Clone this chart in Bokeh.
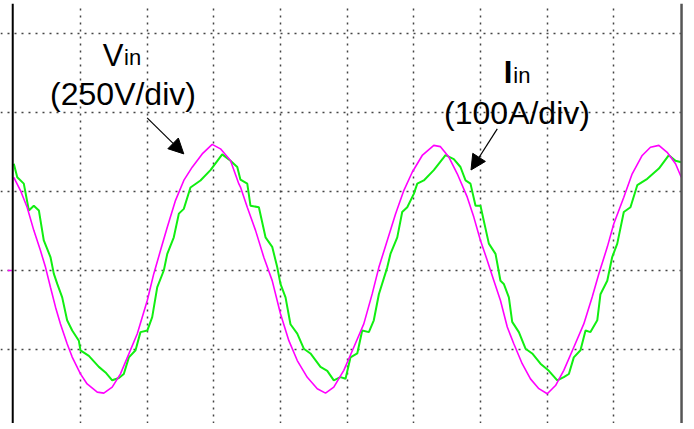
from bokeh.plotting import figure
from bokeh.models import Range1d, Span, Label, Arrow, NormalHead, FixedTicker
from bokeh.embed import file_html
from bokeh.resources import INLINE

# ---- data (time in ms, 5 ms/div; Vin in V, 250 V/div; Iin in A, 100 A/div) ----
vin_t = [0.0, 0.50, 1.00, 1.50, 2.00, 2.38, 2.75, 3.13, 3.50, 4.00, 4.38, 5.00, 5.50, 6.26, 6.75,
         7.38, 8.00, 8.63, 9.26, 10.01, 10.50, 11.00, 11.51, 12.13, 12.75, 13.38, 14.13, 14.88,
         15.50, 16.25, 16.88, 17.00, 17.51, 18.13, 18.75, 19.38, 20.00, 20.63, 21.26, 22.01,
         22.76, 23.38, 24.00, 24.75, 25.50, 26.25, 26.88, 27.38, 28.01, 28.63, 29.25, 29.88,
         30.63, 31.50, 32.00, 32.63, 33.26, 34.01, 34.50, 35.00, 35.51, 36.00, 36.50, 37.01,
         37.50, 38.13, 38.75, 39.38, 40.01, 40.63, 41.25, 42.00, 42.75, 43.38, 43.88, 44.51,
         45.00, 45.75, 46.38, 47.13, 47.75, 48.38, 49.00, 49.63, 50.06]
vin_v = [295, 253, 200, 127, 63, 10, -53, -116, -169, -232, -274, -327, -359, -385, -388,
         -369, -327, -264, -200, -95, -10, 63, 137, 222, 285, 327, 369, 399,
         385, 348, 274, 264, 200, 127, 42, -32, -137, -222, -285, -338,
         -374, -388, -369, -316, -243, -169, -74, 10, 95, 179, 253, 311,
         364, 396, 392, 359, 306, 232, 169, 95, 32, -32, -95, -179,
         -232, -295, -343, -374, -390, -364, -316, -243, -169, -84, -10, 74,
         148, 232, 306, 364, 390, 396, 374, 338, 295]

iin_t = [0.0, 0.26, 0.75, 1.13, 1.50, 1.88, 2.25, 2.75, 3.00, 3.26, 3.63, 4.00, 4.38, 4.88, 5.00,
         5.63, 6.38, 6.88, 7.38, 7.88, 8.25, 8.63, 9.13, 9.50, 10.01, 10.38, 10.76, 11.25, 11.51,
         12.00, 12.38, 12.75, 13.25, 14.00, 14.75, 15.63, 16.25, 16.76, 17.00, 17.51, 17.75,
         18.38, 18.88, 19.38, 19.76, 20.00, 20.38, 20.75, 21.26, 21.75, 22.25, 23.00, 23.51,
         24.00, 24.50, 24.88, 25.25, 25.76, 26.13, 26.63, 27.00, 27.38, 28.01, 28.25, 28.76,
         29.13, 29.51, 30.00, 30.26, 30.75, 31.50, 32.38, 33.00, 33.50, 33.88, 34.25, 34.63,
         35.00, 35.63, 36.13, 36.50, 36.75, 37.13, 37.38, 37.88, 38.38, 38.88, 39.50, 40.13,
         40.76, 41.25, 41.63, 42.00, 42.50, 42.88, 43.25, 43.76, 44.00, 44.51, 44.88, 45.26,
         45.75, 46.25, 46.76, 47.51, 48.38, 49.13, 49.63, 50.06]
iin_a = [135, 118, 110, 76, 82, 76, 38, 17, -4, -17, -34, -63, -76, -89, -101,
         -108, -122, -129, -139, -136, -131, -110, -101, -78, -76, -59, -21, 0, 21,
         42, 72, 78, 105, 114, 127, 147, 139, 131, 115, 110, 82,
         80, 42, 30, 4, -17, -34, -68, -80, -99, -105, -122, -127,
         -139, -135, -137, -110, -105, -76, -78, -63, -30, 4, 21, 42,
         74, 80, 97, 110, 114, 127, 146, 141, 131, 114, 110, 82,
         82, 34, 21, -13, -17, -34, -65, -78, -99, -105, -118, -127,
         -139, -135, -131, -110, -101, -76, -78, -63, -30, -13, 17, 34,
         74, 80, 108, 116, 129, 146, 139, 137]

time_div = 5.0      # ms per division
v_div = 250.0       # V per division
i_div = 100.0       # A per division

# ---- figure ----
PX_T = time_div / (2000.0 / 30.0)   # ms per pixel (66.67 px per division)
PX_V = v_div / 79.0                 # V per pixel (79 px per division)
TOP = 3
W, H = 684, 423
FW, FH = W, H - TOP
x0 = -13.3 * PX_T
y_top = (270 - TOP) * PX_V
p = figure(width=W, height=H, output_backend="svg", toolbar_location=None,
           x_range=Range1d(x0, x0 + FW * PX_T),
           y_range=Range1d(y_top - FH * PX_V, y_top),
           x_axis_location=None, y_axis_location=None,
           min_border=0, min_border_top=TOP, outline_line_color=None,
           background_fill_color="white")
p.extra_y_ranges = {"amps": Range1d((y_top - FH * PX_V) * i_div / v_div, y_top * i_div / v_div)}

# grid as dotted oscilloscope graticule
xticks = [time_div * k for k in range(1, 10)]
yticks = [v_div * k for k in range(-1, 4)]
p.xgrid.ticker = FixedTicker(ticks=xticks)
p.ygrid.ticker = FixedTicker(ticks=yticks)
for g in (p.xgrid, p.ygrid):
    g.grid_line_color = "#444444"
    g.grid_line_dash = "2 5"
    g.grid_line_width = 1.5

# borders
p.add_layout(Span(location=-0.08, dimension="height", line_color="black", line_width=2))
p.add_layout(Span(location=10 * time_div + 0.08, dimension="height", line_color="#555555", line_width=2.5))

# channel ground marker
p.segment(x0=[-0.45], y0=[0], x1=[-0.15], y1=[0], line_color="#ff00ff", line_width=1.5)

# traces
p.line(iin_t, iin_a, y_range_name="amps", line_color="#11ee11", line_width=2)
p.line(vin_t, vin_v, line_color="#ff00ff", line_width=1.6)

# annotations
font = "Liberation Sans"
def lab(x, y, t, size, align="center", bold=False):
    p.add_layout(Label(x=x, y=y, text=t, text_font=font, text_font_size=size,
                       text_align=align, text_baseline="alphabetic", text_color="black",
                       text_font_style="bold" if bold else "normal"))

lab(8.23, 680, "V", "31px", "right")
lab(8.27, 674, "in", "22px", "left")
lab(8.19, 557, "(250V/div)", "32px")
lab(37.40, 627, "I", "31px", "right", bold=True)
lab(37.46, 617, "in", "22px", "left")
lab(37.74, 497, "(100A/div)", "32px")

p.add_layout(Arrow(x_start=10.0, y_start=483, x_end=12.75, y_end=369, line_width=1.2,
                   end=NormalHead(size=15, fill_color="black", line_color="black", line_width=1)))
p.add_layout(Arrow(x_start=36.26, y_start=448, x_end=34.29, y_end=318, line_width=1.2,
                   end=NormalHead(size=15, fill_color="black", line_color="black", line_width=1)))

open("out.html", "w").write(file_html(p, INLINE))
